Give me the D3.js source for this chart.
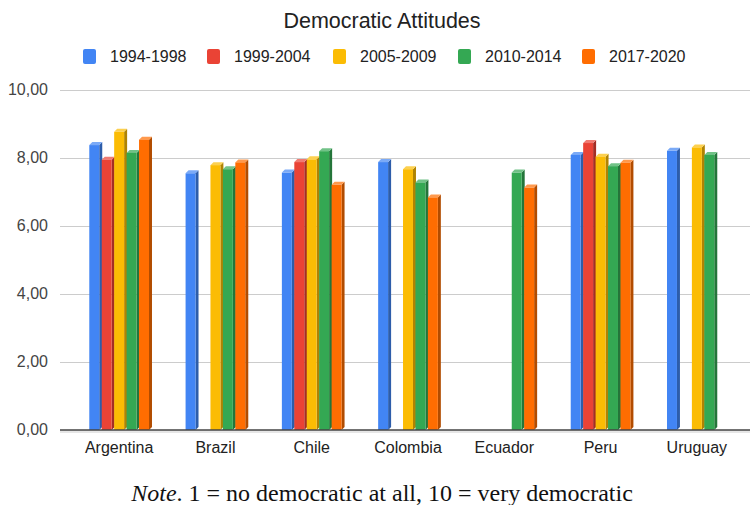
<!DOCTYPE html>
<html>
<head>
<meta charset="utf-8">
<script src="https://cdn.jsdelivr.net/npm/d3@7"></script>
<style>
  html, body { margin: 0; padding: 0; background: #fff; }
  svg { display: block; }
</style>
</head>
<body>
<svg id="chart" width="751" height="505"></svg>
<script>
// Mean democratic attitude score per country and survey wave
const countries = ["Argentina", "Brazil", "Chile", "Colombia", "Ecuador", "Peru", "Uruguay"];
const seriesNames = ["1994-1998", "1999-2004", "2005-2009", "2010-2014", "2017-2020"];
const seriesColors = ["#4285F4", "#EA4335", "#FBBC04", "#34A853", "#FF6D01"];
const seriesSideColors = ["#2D5DAA", "#A32E25", "#AF8303", "#24753A", "#B24C00"];
const seriesTopColors = ["#7BAAF7", "#F07B72", "#FCD04F", "#71C287", "#FF994D"];

const wave1994 = [8.38, 7.55, 7.57, 7.88, null, 8.09, 8.21];
const wave1999 = [7.95, null, 7.88, null, null, 8.44, null];
const wave2005 = [8.77, 7.79, 7.96, 7.67, null, 8.04, 8.31];
const wave2010 = [8.15, 7.67, 8.20, 7.28, 7.57, 7.76, 8.09];
const wave2017 = [8.54, 7.87, 7.21, 6.84, 7.13, 7.86, null];
const waves = [wave1994, wave1999, wave2005, wave2010, wave2017];

const yTicks = [0, 2, 4, 6, 8, 10];
const yTickLabels = ["0,00", "2,00", "4,00", "6,00", "8,00", "10,00"];

const svg = d3.select("#chart");
const font = "'Liberation Sans', Arial, sans-serif";

const plotLeft = 60, plotRight = 750, plotTop = 90, plotBottom = 430;
const depth = 3;

const y = d3.scaleLinear().domain([0, 10]).range([plotBottom, plotTop]);
const x0 = d3.scaleBand().domain(countries).range([71, 745]).paddingInner(0.38).paddingOuter(0.19);
const x1 = d3.scaleBand().domain(seriesNames).range([0, x0.bandwidth()]).paddingInner(0.2);

// Title
svg.append("text")
  .attr("x", 382).attr("y", 28)
  .attr("text-anchor", "middle")
  .attr("font-family", font).attr("font-size", 21.5)
  .attr("fill", "#222")
  .text("Democratic Attitudes");

// Legend
const legendX = [83, 207, 333, 458, 582];
const legend = svg.append("g");
seriesNames.forEach((name, i) => {
  const g = legend.append("g").attr("transform", `translate(${legendX[i]},0)`);
  g.append("rect").attr("x", 0).attr("y", 49).attr("width", 13).attr("height", 15)
    .attr("rx", 2).attr("fill", seriesColors[i]);
  g.append("text").attr("x", 27).attr("y", 62)
    .attr("font-family", font).attr("font-size", 16).attr("fill", "#222")
    .text(name);
});

// Value axis labels and horizontal gridlines
const yAxis = d3.axisLeft(y).tickValues(yTicks).tickSize(0)
  .tickFormat((d, i) => yTickLabels[i]);
const yg = svg.append("g").attr("transform", `translate(${plotLeft},0)`).call(yAxis);
yg.select(".domain").remove();
yg.selectAll("text").attr("x", -12).attr("dy", "0.3em")
  .attr("font-family", font).attr("font-size", 16).attr("fill", "#444");
yg.selectAll(".tick").filter(d => d !== 0).append("line")
  .attr("x1", 0).attr("x2", plotRight - plotLeft)
  .attr("stroke", "#cccccc").attr("stroke-width", 1);

// Floor strip under the baseline
svg.append("rect").attr("x", plotLeft).attr("y", plotBottom)
  .attr("width", plotRight - plotLeft).attr("height", 3).attr("fill", "#e6e6e6");

// 3D bars
const bars = svg.append("g");
countries.forEach((c, ci) => {
  seriesNames.forEach((s, si) => {
    const v = waves[si][ci];
    if (v == null) return;
    const bx = x0(c) + x1(s);
    const w = x1.bandwidth();
    const yt = y(v), yb = y(0);
    bars.append("polygon")
      .attr("points", [[bx + w, yt], [bx + w + depth, yt - depth], [bx + w + depth, yb - depth], [bx + w, yb]].join(" "))
      .attr("fill", seriesSideColors[si]);
    bars.append("polygon")
      .attr("points", [[bx, yt], [bx + depth, yt - depth], [bx + w + depth, yt - depth], [bx + w, yt]].join(" "))
      .attr("fill", seriesTopColors[si]);
    bars.append("rect")
      .attr("x", bx).attr("y", yt).attr("width", w).attr("height", yb - yt)
      .attr("fill", seriesColors[si]);
  });
});

// Baseline
svg.append("line").attr("x1", plotLeft).attr("x2", plotRight)
  .attr("y1", plotBottom).attr("y2", plotBottom)
  .attr("stroke", "#444").attr("stroke-width", 1.5);

// Category labels
const xAxis = d3.axisBottom(x0).tickSize(0);
const xg = svg.append("g").attr("transform", `translate(0,${plotBottom})`).call(xAxis);
xg.select(".domain").remove();
xg.selectAll("text").attr("y", 23).attr("dy", 0)
  .attr("font-family", font).attr("font-size", 16).attr("fill", "#222");

// Footnote
const note = svg.append("text")
  .attr("x", 382).attr("y", 501)
  .attr("text-anchor", "middle")
  .attr("font-family", "'Liberation Serif', 'Times New Roman', serif")
  .attr("font-size", 24).attr("fill", "#111");
note.append("tspan").attr("font-style", "italic").text("Note");
note.append("tspan").text(". 1 = no democratic at all, 10 = very democratic");
</script>
</body>
</html>
